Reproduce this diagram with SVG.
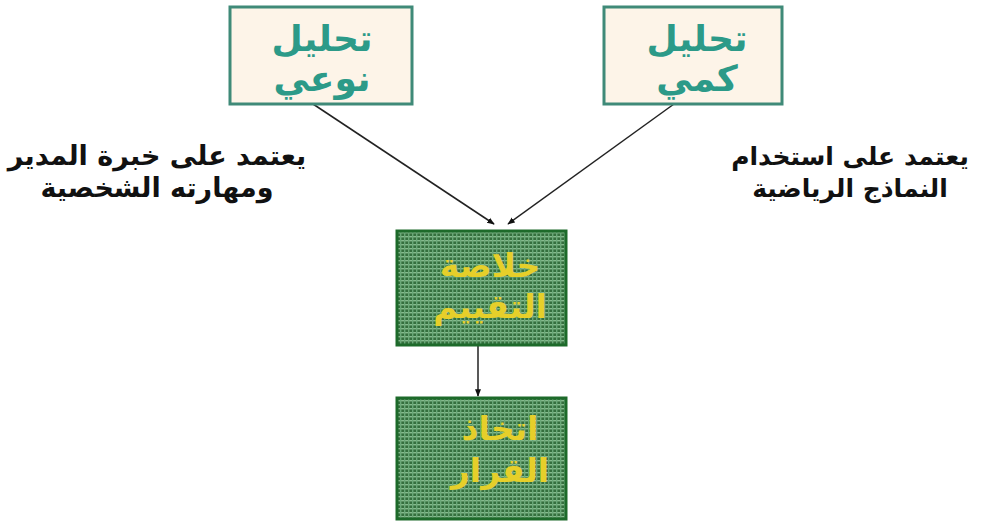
<svg xmlns="http://www.w3.org/2000/svg" width="990" height="521" viewBox="0 0 990 521">
<defs>
<pattern id="grid" width="4" height="4" patternUnits="userSpaceOnUse">
<rect width="4" height="4" fill="#356f3e"/>
<rect width="4" height="1.4" fill="#86bb8e"/>
<rect width="1.4" height="4" fill="#6aa878"/>
</pattern>
<marker id="ah" viewBox="0 0 10 10" refX="9" refY="5" markerWidth="5" markerHeight="5" orient="auto">
<path d="M0,1 L10,5 L0,9 z" fill="#111"/>
</marker>
<style>
.top{fill:#fdf4e8;stroke:#3f8a78;stroke-width:3}
.toptxt{font-family:"DejaVu Sans",sans-serif;font-size:36px;font-weight:bold;fill:#2c9a88;text-anchor:middle}
.grn{fill:url(#grid);stroke:#1d6a2a;stroke-width:3}
.grntxt{font-family:"DejaVu Sans",sans-serif;font-size:33px;font-weight:bold;fill:#e6cf2a;text-anchor:middle}
.side{font-family:"DejaVu Sans",sans-serif;font-weight:bold;fill:#111;text-anchor:middle}
.con{stroke:#222;stroke-width:1.5;fill:none;marker-end:url(#ah)}
</style>
</defs>
<rect width="990" height="521" fill="#ffffff"/>
<g id="connectors">
<line class="con" x1="313" y1="104" x2="494" y2="224"/>
<line class="con" x1="674" y1="104" x2="508" y2="224"/>
<line class="con" x1="478" y1="345" x2="478" y2="396"/>
</g>
<g id="node-qualitative">
<rect class="top" x="230" y="7" width="182" height="97"/>
<text class="toptxt" x="322" y="51" direction="rtl">تحليل</text>
<text class="toptxt" x="322" y="91" direction="rtl">نوعي</text>
</g>
<g id="node-quantitative">
<rect class="top" x="604" y="7" width="178" height="97"/>
<text class="toptxt" x="697" y="51" direction="rtl">تحليل</text>
<text class="toptxt" x="697" y="91" direction="rtl">كمي</text>
</g>
<g id="label-left" class="side" font-size="27">
<text x="157" y="165" direction="rtl">يعتمد على خبرة المدير</text>
<text x="157" y="197" direction="rtl">ومهارته الشخصية</text>
</g>
<g id="label-right" class="side" font-size="25">
<text x="850" y="165" direction="rtl">يعتمد على استخدام</text>
<text x="850" y="197" direction="rtl">النماذج الرياضية</text>
</g>
<g id="node-summary">
<rect class="grn" x="397" y="231" width="169" height="114"/>
<text class="grntxt" x="490" y="277" direction="rtl">خلاصة</text>
<text class="grntxt" x="490" y="318" direction="rtl">التقييم</text>
</g>
<g id="node-decision">
<rect class="grn" x="397" y="398" width="169" height="121"/>
<text class="grntxt" x="500" y="440" direction="rtl">اتخاذ</text>
<text class="grntxt" x="500" y="482" direction="rtl">القرار</text>
</g>
</svg>
